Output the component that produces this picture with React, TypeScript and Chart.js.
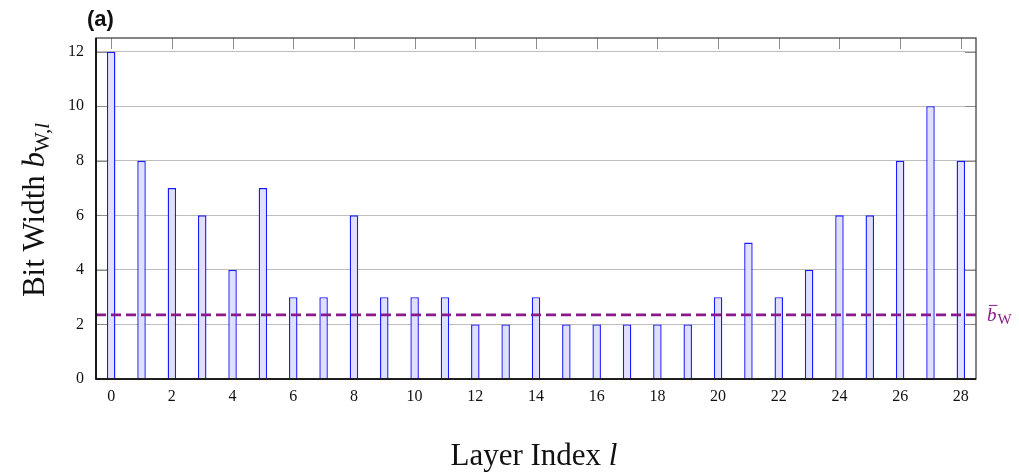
import React, { useEffect, useRef } from 'react';
import { Chart, registerables } from 'chart.js';

Chart.register(...registerables);

const layerIndices: string[] = [
  '0', '1', '2', '3', '4', '5', '6', '7', '8', '9', '10', '11', '12', '13', '14',
  '15', '16', '17', '18', '19', '20', '21', '22', '23', '24', '25', '26', '27', '28',
];
const bitWidths: number[] = [
  12, 8, 7, 6, 4, 7, 3, 3, 6, 3, 3, 3, 2, 2, 3, 2, 2, 2, 2, 2, 3, 5, 3, 4, 6, 6, 8, 10, 8,
];
const meanBitWidth = 2.35;
const yTickValues: number[] = [0, 2, 4, 6, 8, 10, 12];
const xTickValues: number[] = [0, 2, 4, 6, 8, 10, 12, 14, 16, 18, 20, 22, 24, 26, 28];
const panelLabel = '(a)';

type Run = { t: string; size: number; italic?: boolean; bold?: boolean; dy?: number; family?: string };

function runFont(r: Run) {
  return `${r.italic ? 'italic ' : ''}${r.bold ? 'bold ' : ''}${r.size}px ${r.family || '"Liberation Serif"'}`;
}

function drawRuns(ctx: CanvasRenderingContext2D, runs: Run[], x: number, y: number, align: 'center' | 'left') {
  let total = 0;
  for (const r of runs) {
    ctx.font = runFont(r);
    total += ctx.measureText(r.t).width;
  }
  let cx = align === 'center' ? x - total / 2 : x;
  ctx.textAlign = 'left';
  ctx.textBaseline = 'alphabetic';
  for (const r of runs) {
    ctx.font = runFont(r);
    ctx.fillText(r.t, cx, y + (r.dy || 0));
    cx += ctx.measureText(r.t).width;
  }
}

const decorPlugin = {
  id: 'decor',
  afterDatasetsDraw(chart: any) {
    const ctx: CanvasRenderingContext2D = chart.ctx;
    const { left, right, top, bottom } = chart.chartArea;
    const xs = chart.scales.x;
    const ys = chart.scales.y;
    ctx.save();
    // mean dashed line
    const my = ys.getPixelForValue(meanBitWidth);
    ctx.strokeStyle = '#8a1a8a';
    ctx.lineWidth = 2.6;
    ctx.setLineDash([10, 5]);
    ctx.beginPath();
    ctx.moveTo(left, my);
    ctx.lineTo(right, my);
    ctx.stroke();
    ctx.setLineDash([]);
    // inward ticks
    ctx.strokeStyle = '#8c8c8c';
    ctx.lineWidth = 1;
    ctx.beginPath();
    for (const v of xTickValues) {
      const px = Math.round(xs.getPixelForValue(v)) + 0.5;
      ctx.moveTo(px, top);
      ctx.lineTo(px, top + 11);
    }
    for (const v of yTickValues) {
      const py = Math.round(ys.getPixelForValue(v)) + 0.5;
      ctx.moveTo(right - 11, py);
      ctx.lineTo(right, py);
      ctx.moveTo(left, py);
      ctx.lineTo(left + 11, py);
    }
    ctx.stroke();
    // frame
    ctx.strokeStyle = '#444444';
    ctx.lineWidth = 1.3;
    ctx.strokeRect(left, top, right - left, bottom - top);
    ctx.strokeStyle = '#000000';
    ctx.lineWidth = 1.6;
    ctx.beginPath();
    ctx.moveTo(left, top);
    ctx.lineTo(left, bottom);
    ctx.lineTo(right, bottom);
    ctx.stroke();
    ctx.restore();
  },
  afterDraw(chart: any) {
    const ctx: CanvasRenderingContext2D = chart.ctx;
    const { left, right } = chart.chartArea;
    const ys = chart.scales.y;
    ctx.save();
    ctx.fillStyle = '#111111';
    drawRuns(ctx, [{ t: panelLabel, size: 22, bold: true, family: '"Liberation Sans"' }], 87, 26, 'left');
    // x title
    drawRuns(
      ctx,
      [
        { t: 'Layer Index ', size: 31 },
        { t: 'l', size: 31, italic: true },
      ],
      (left + right) / 2 - 2,
      465,
      'center'
    );
    // y title
    ctx.save();
    ctx.translate(44, 210);
    ctx.rotate(-Math.PI / 2);
    drawRuns(
      ctx,
      [
        { t: 'Bit Width ', size: 31 },
        { t: 'b', size: 31, italic: true },
        { t: 'W,', size: 21, dy: 5 },
        { t: 'l', size: 21, italic: true, dy: 5 },
      ],
      0,
      0,
      'center'
    );
    ctx.restore();
    // mean label
    const my = ys.getPixelForValue(meanBitWidth);
    ctx.fillStyle = '#8a1a8a';
    ctx.font = 'italic 19px "Liberation Serif"';
    ctx.textAlign = 'left';
    ctx.textBaseline = 'alphabetic';
    const lx = right + 11;
    const ly = my + 6;
    ctx.fillText('b', lx, ly);
    const bw = ctx.measureText('b').width;
    ctx.strokeStyle = '#8a1a8a';
    ctx.lineWidth = 1;
    ctx.beginPath();
    ctx.moveTo(lx + 2, ly - 15.5);
    ctx.lineTo(lx + bw + 1, ly - 15.5);
    ctx.stroke();
    ctx.font = '15px "Liberation Serif"';
    ctx.fillText('W', lx + bw + 1, ly + 3);
    ctx.restore();
  },
};

export default function App() {
  const canvasRef = useRef<HTMLCanvasElement | null>(null);

  useEffect(() => {
    if (!canvasRef.current) return;
    const chart = new Chart(canvasRef.current, {
      type: 'bar',
      data: {
        labels: layerIndices,
        datasets: [
          {
            data: bitWidths,
            backgroundColor: '#e0e0fc',
            borderColor: '#1a1aff',
            borderWidth: 1.4,
            barPercentage: 0.28,
            categoryPercentage: 1,
          },
        ],
      },
      options: {
        animation: false,
        responsive: true,
        maintainAspectRatio: false,
        layout: { padding: { top: 38, right: 43, left: 0, bottom: 0 } },
        plugins: {
          legend: { display: false },
          tooltip: { enabled: false },
          title: { display: false },
        },
        scales: {
          x: {
            type: 'category',
            offset: true,
            grid: { display: false, drawTicks: false },
            border: { display: false },
            ticks: {
              autoSkip: false,
              maxRotation: 0,
              color: '#111111',
              padding: 8,
              font: { family: '"Liberation Serif"', size: 16 },
            },
            afterBuildTicks: (scale: any) => {
              scale.ticks = xTickValues.map((v) => ({ value: v }));
            },
            afterFit: (scale: any) => {
              scale.height = 94;
            },
          },
          y: {
            type: 'linear',
            min: 0,
            max: 12.5,
            grid: { color: '#bdbdbd', lineWidth: 1, drawTicks: false },
            border: { display: false },
            ticks: {
              color: '#111111',
              padding: 12,
              font: { family: '"Liberation Serif"', size: 16 },
            },
            afterBuildTicks: (scale: any) => {
              scale.ticks = yTickValues.map((v) => ({ value: v }));
            },
            afterFit: (scale: any) => {
              scale.width = 96;
            },
          },
        },
      },
      plugins: [decorPlugin],
    } as any);
    return () => chart.destroy();
  }, []);

  return (
    <div style={{ position: 'fixed', left: 0, top: 0, width: 1019, height: 473, background: '#ffffff' }}>
      <canvas ref={canvasRef} />
    </div>
  );
}
